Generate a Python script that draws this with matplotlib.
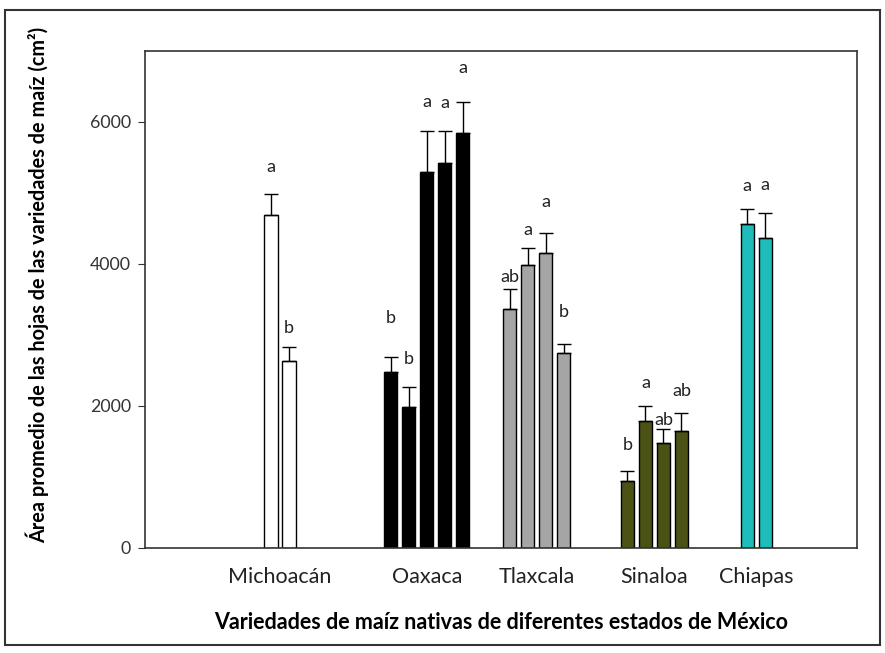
import matplotlib.pyplot as plt
from matplotlib.patches import Rectangle
import numpy as np

plt.rcParams['font.family'] = ['Lato', 'DejaVu Sans']

# Leaf area per maize variety, grouped by state
states = ['Michoacán', 'Oaxaca', 'Tlaxcala', 'Sinaloa', 'Chiapas']
means = [
    [4690, 2640],
    [2480, 1990, 5300, 5420, 5840],
    [3360, 3990, 4160, 2740],
    [940, 1790, 1480, 1650],
    [4570, 4360],
]
errors = [
    [290, 190],
    [210, 280, 575, 450, 435],
    [290, 240, 275, 135],
    [145, 210, 190, 245],
    [210, 365],
]
letters = [
    ['a', 'b'],
    ['b', 'b', 'a', 'a', 'a'],
    ['ab', 'a', 'a', 'b'],
    ['b', 'a', 'ab', 'ab'],
    ['a', 'a'],
]
colors = ['white', 'black', '#a5a5a5', '#4b5214', '#1fbcbc']

# layout of the groups along x (in bar-pitch units)
centers = [7.5, 15.65, 21.75, 28.3, 33.95]
# extra gap above the error cap for each significance letter
letter_pad = [
    [280, 150],
    [430, 280, 290, 290, 370],
    [50, 130, 330, 330],
    [260, 210, 20, 200],
    [210, 280],
]

fig = plt.figure(figsize=(8.85, 6.53), dpi=100)
ax = fig.add_axes([0.1638, 0.1608, 0.8046, 0.7611])

for g in range(len(states)):
    n = len(means[g])
    xs = centers[g] + (np.arange(n) - (n - 1) / 2)
    m = np.array(means[g])
    e = np.array(errors[g])
    ax.bar(xs, m, width=0.74, color=colors[g], edgecolor='black', linewidth=1.0, zorder=2)
    ax.errorbar(xs, m, yerr=[np.zeros(n), e], fmt='none', ecolor='black',
                elinewidth=1.0, capsize=5, capthick=1.0, zorder=3)
    for x, top, lab, pad in zip(xs, m + e, letters[g], letter_pad[g]):
        ax.text(x, top + pad, lab, ha='center', va='bottom', fontsize=13, color='#222222')

ax.set_xlim(0, 39.55)
ax.set_ylim(0, 7000)
ax.set_yticks([0, 2000, 4000, 6000])
ax.set_xticks(centers)
ax.set_xticklabels(states, fontsize=15.5, color='#222222')
ax.tick_params(axis='x', length=0, pad=14)
ax.tick_params(axis='y', direction='out', length=5, labelsize=12.8, colors='#333333', pad=5)
for s in ax.spines.values():
    s.set_color('#333333')
    s.set_linewidth(1.2)

ax.set_ylabel('Área promedio de las hojas de las variedades de maíz (cm²)',
              fontsize=14.3, fontweight='bold')
ax.yaxis.set_label_coords(-0.135, 0.53)
ax.set_xlabel('Variedades de maíz nativas de diferentes estados de México',
              fontsize=15.5, fontweight='bold', labelpad=18)

# frame around the whole figure
fig.patches.append(Rectangle((0.006, 0.012), 0.988, 0.973, transform=fig.transFigure,
                             fill=False, edgecolor='#333333', linewidth=1.5))

fig.savefig('out.png', dpi=100)
